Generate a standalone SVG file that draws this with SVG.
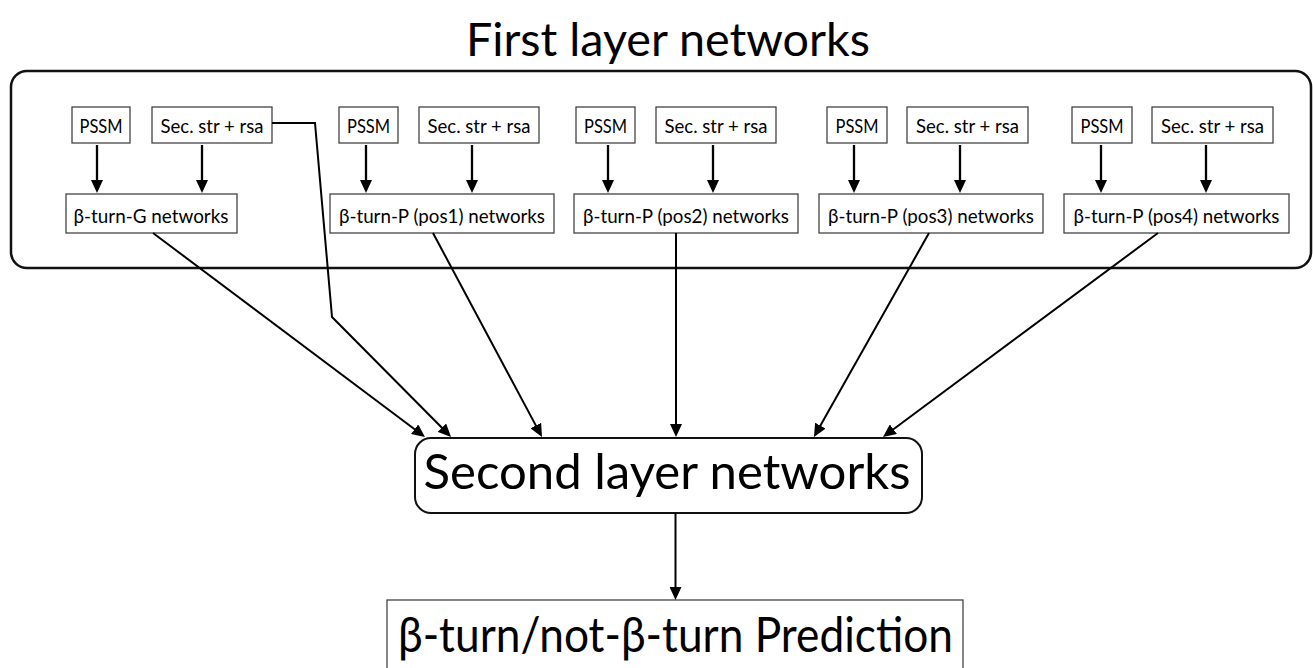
<svg xmlns="http://www.w3.org/2000/svg" width="1313" height="668" viewBox="0 0 1313 668">
<style>
  text { font-family: Lato, "Noto Sans", "Liberation Sans", sans-serif; fill: #000; text-anchor: middle; }
  .sm { font-size: 18.5px; }
  .md { font-size: 19.5px; }
  .box { fill: #fff; stroke: #444; stroke-width: 1.3; }
  .big { font-size: 49px; }
  .ln { fill: none; stroke: #000; stroke-width: 2; }
  .sv { fill: none; stroke: #000; stroke-width: 2.3; }
</style>
<defs>
  <marker id="ah" viewBox="0 0 13 12" refX="5" refY="6" markerWidth="13" markerHeight="12" markerUnits="userSpaceOnUse" orient="auto">
    <path d="M0,0 L13,6 L0,12 z" fill="#000"/>
  </marker>
</defs>
<rect width="1313" height="668" fill="#fff"/>

<g id="title">
  <text x="668" y="56" style="font-size:47px" textLength="404" lengthAdjust="spacingAndGlyphs">First layer networks</text>
</g>

<g id="first-layer">
  <rect x="11" y="71" width="1300" height="197" rx="16" fill="none" stroke="#111" stroke-width="2.5"/>
</g>

<g id="g1-pssm"><rect class="box" x="72" y="107" width="58" height="36"/><text class="sm" x="101" y="133" textLength="43" lengthAdjust="spacingAndGlyphs">PSSM</text></g>
<g id="g1-sec"><rect class="box" x="152" y="107" width="120" height="36"/><text class="sm" x="212" y="133" textLength="103" lengthAdjust="spacingAndGlyphs">Sec. str + rsa</text></g>
<g id="g1-net"><rect class="box" x="66" y="194" width="171" height="39"/><text class="md" x="151" y="223" textLength="155" lengthAdjust="spacingAndGlyphs">β-turn-G networks</text></g>

<g id="g2-pssm"><rect class="box" x="339" y="107" width="59" height="36"/><text class="sm" x="368.5" y="133" textLength="43" lengthAdjust="spacingAndGlyphs">PSSM</text></g>
<g id="g2-sec"><rect class="box" x="419" y="107" width="120" height="36"/><text class="sm" x="479" y="133" textLength="103" lengthAdjust="spacingAndGlyphs">Sec. str + rsa</text></g>
<g id="g2-net"><rect class="box" x="330" y="194" width="224" height="39"/><text class="md" x="442" y="223" textLength="206" lengthAdjust="spacingAndGlyphs">β-turn-P (pos1) networks</text></g>

<g id="g3-pssm"><rect class="box" x="576" y="107" width="59" height="36"/><text class="sm" x="605.5" y="133" textLength="43" lengthAdjust="spacingAndGlyphs">PSSM</text></g>
<g id="g3-sec"><rect class="box" x="656" y="107" width="120" height="36"/><text class="sm" x="716" y="133" textLength="103" lengthAdjust="spacingAndGlyphs">Sec. str + rsa</text></g>
<g id="g3-net"><rect class="box" x="574" y="194" width="224" height="39"/><text class="md" x="686" y="223" textLength="206" lengthAdjust="spacingAndGlyphs">β-turn-P (pos2) networks</text></g>

<g id="g4-pssm"><rect class="box" x="827" y="107" width="60" height="36"/><text class="sm" x="857" y="133" textLength="43" lengthAdjust="spacingAndGlyphs">PSSM</text></g>
<g id="g4-sec"><rect class="box" x="907" y="107" width="121" height="36"/><text class="sm" x="967.5" y="133" textLength="103" lengthAdjust="spacingAndGlyphs">Sec. str + rsa</text></g>
<g id="g4-net"><rect class="box" x="819" y="194" width="224" height="39"/><text class="md" x="931" y="223" textLength="206" lengthAdjust="spacingAndGlyphs">β-turn-P (pos3) networks</text></g>

<g id="g5-pssm"><rect class="box" x="1072" y="107" width="60" height="36"/><text class="sm" x="1102" y="133" textLength="43" lengthAdjust="spacingAndGlyphs">PSSM</text></g>
<g id="g5-sec"><rect class="box" x="1152" y="107" width="121" height="36"/><text class="sm" x="1212.5" y="133" textLength="103" lengthAdjust="spacingAndGlyphs">Sec. str + rsa</text></g>
<g id="g5-net"><rect class="box" x="1064" y="194" width="225" height="39"/><text class="md" x="1176.5" y="223" textLength="206" lengthAdjust="spacingAndGlyphs">β-turn-P (pos4) networks</text></g>

<g id="second-layer">
  <rect x="415" y="438" width="507" height="75" rx="16" fill="#fff" stroke="#111" stroke-width="2"/>
  <text class="big" x="667" y="489" textLength="487" lengthAdjust="spacingAndGlyphs">Second layer networks</text>
</g>

<g id="prediction">
  <rect class="box" x="387" y="600" width="576" height="75"/>
  <text class="big" x="675.5" y="652" textLength="555" lengthAdjust="spacingAndGlyphs">β-turn/not-β-turn Prediction</text>
</g>

<g id="connectors">
  <line class="sv" x1="97" y1="145" x2="97" y2="185" marker-end="url(#ah)"/>
  <line class="sv" x1="202" y1="145" x2="202" y2="185" marker-end="url(#ah)"/>
  <line class="sv" x1="366" y1="145" x2="366" y2="185" marker-end="url(#ah)"/>
  <line class="sv" x1="472" y1="145" x2="472" y2="185" marker-end="url(#ah)"/>
  <line class="sv" x1="608" y1="145" x2="608" y2="185" marker-end="url(#ah)"/>
  <line class="sv" x1="713" y1="145" x2="713" y2="185" marker-end="url(#ah)"/>
  <line class="sv" x1="854" y1="145" x2="854" y2="185" marker-end="url(#ah)"/>
  <line class="sv" x1="960" y1="145" x2="960" y2="185" marker-end="url(#ah)"/>
  <line class="sv" x1="1101" y1="145" x2="1101" y2="185" marker-end="url(#ah)"/>
  <line class="sv" x1="1206" y1="145" x2="1206" y2="185" marker-end="url(#ah)"/>

  <line class="ln" x1="153" y1="233" x2="418.6" y2="432.2" marker-end="url(#ah)"/>
  <polyline class="ln" points="272,123 315,123 332,317 445.4,431.3" marker-end="url(#ah)"/>
  <line class="ln" x1="433" y1="233" x2="538.2" y2="429.9" marker-end="url(#ah)"/>
  <line class="ln" x1="676" y1="233" x2="676" y2="429" marker-end="url(#ah)"/>
  <line class="ln" x1="929" y1="233" x2="817.9" y2="430" marker-end="url(#ah)"/>
  <line class="ln" x1="1158" y1="233" x2="889.4" y2="432.2" marker-end="url(#ah)"/>

  <line class="ln" x1="675.5" y1="513" x2="675.5" y2="592" marker-end="url(#ah)" stroke-width="1.6"/>
</g>
</svg>
